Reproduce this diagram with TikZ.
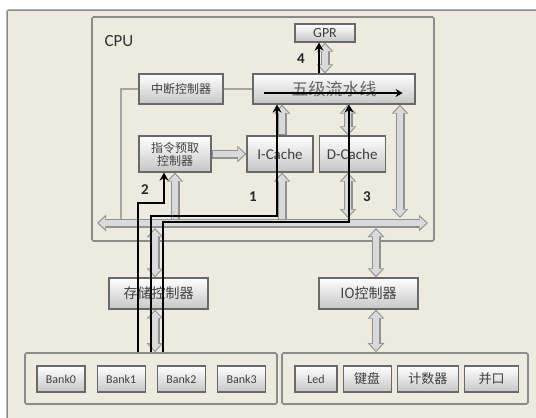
\documentclass[tikz,border=0pt]{standalone}
\usepackage{fontspec}
\setmainfont{Carlito}
\newfontfamily\cjk{Noto Sans CJK SC}
\usetikzlibrary{arrows.meta,positioning}
\definecolor{paper}{RGB}{237,234,224}
\definecolor{boxline}{RGB}{105,105,105}
\definecolor{frameline}{RGB}{140,140,140}
\definecolor{arrowfill}{RGB}{218,218,218}
\definecolor{arrowline}{RGB}{145,145,145}
\tikzset{
	unitbox/.style={rectangle, draw=boxline, line width=1.2pt, top color=white, bottom color=gray!45,
		inner sep=0pt, align=center, text=black!75, font=\cjk\fontsize{12}{13}\selectfont},
	bankbox/.style={unitbox, minimum height=26pt, font=\fontsize{12}{12}\selectfont},
	iobox/.style={unitbox, minimum height=26pt, font=\cjk\fontsize{13}{13}\selectfont},
	groupbox/.style={rectangle, draw=frameline, line width=1.6pt, rounded corners=1.5pt, inner sep=0pt},
	fatboth/.style={draw=arrowfill, line width=6.4pt, shorten <=1.6pt, shorten >=1.6pt,
		{Triangle[width=12pt,length=6.8pt]}-{Triangle[width=12pt,length=6.8pt]},
		preaction={draw=arrowline, line width=9pt, shorten <=0pt, shorten >=0pt,
			{Triangle[width=16pt,length=9pt]}-{Triangle[width=16pt,length=9pt]}}},
	fatone/.style={draw=arrowfill, line width=6.4pt, shorten <=1.3pt, shorten >=1.6pt,
		-{Triangle[width=12pt,length=6.8pt]},
		preaction={draw=arrowline, line width=9pt, shorten <=0pt, shorten >=0pt,
			-{Triangle[width=16pt,length=9pt]}}},
	wire/.style={draw=gray!70, line width=2.5pt},
	pathline/.style={-{Stealth[length=8pt,width=9pt]}, line width=2.4pt, black},
	flowline/.style={-{Stealth[length=7pt,width=8pt]}, line width=1.5pt, black},
	steplabel/.style={font=\bfseries\fontsize{15}{15}\selectfont, text=black!85}
}
\begin{document}
\begin{tikzpicture}[x=1pt, y=-1pt]
	\useasboundingbox (0,0) rectangle (536,418);
	\fill[white] (0,0) rectangle (536,418);
	\fill[paper] (7,10) rectangle (536,418);
	\draw[frameline, line width=1.5pt, rounded corners=2pt] (7,418) |- (536,10);

	% CPU part
	\node[groupbox, minimum width=342pt, minimum height=224pt] (cpu) at (263,129) {};
	\node[font=\fontsize{17}{17}\selectfont, text=black!80] (cpulbl) at (119,41) {CPU};
	\node[unitbox, minimum width=60pt, minimum height=18pt, font=\fontsize{14}{14}\selectfont] (gpr) at (325,33) {GPR};
	\node[unitbox, minimum width=162pt, minimum height=30pt, font=\cjk\fontsize{17}{17}\selectfont, text=black!60] (pipe) at (334,89) {五级流水线};
	\node[unitbox, minimum width=84pt, minimum height=30pt] (intc) at (181,89) {中断控制器};
	\node[unitbox, minimum width=72pt, minimum height=36pt] (fetch) at (175,154) {指令预取\\控制器};
	\node[unitbox, minimum width=66pt, minimum height=36pt, font=\fontsize{15}{15}\selectfont] (icache) at (280,154) {I-Cache};
	\node[unitbox, right=5pt of icache, minimum width=66pt, minimum height=36pt, font=\fontsize{15}{15}\selectfont] (dcache) {D-Cache};

	% controllers and devices
	\node[unitbox, minimum width=99pt, minimum height=31pt, font=\cjk\fontsize{14}{14}\selectfont] (memc) at (158.5,293.5) {存储控制器};
	\node[unitbox, minimum width=99pt, minimum height=31pt, font=\cjk\fontsize{14}{14}\selectfont] (ioc) at (368.5,293.5) {IO控制器};
	\node[groupbox, minimum width=252pt, minimum height=51pt] (bankgrp) at (151,378.5) {};
	\node[groupbox, minimum width=246pt, minimum height=51pt] (iogrp) at (405,378.5) {};
	\node[bankbox, minimum width=48pt] (bank0) at (61,379) {Bank0};
	\node[bankbox, minimum width=48pt, right=11pt of bank0] (bank1) {Bank1};
	\node[bankbox, minimum width=48pt, right=11pt of bank1] (bank2) {Bank2};
	\node[bankbox, minimum width=48pt, right=11pt of bank2] (bank3) {Bank3};
	\node[bankbox, minimum width=42pt] (led) at (316,379) {Led};
	\node[iobox, minimum width=48pt, right=5pt of led] (kbd) {键盘};
	\node[iobox, minimum width=61pt, right=5pt of kbd] (cnt) {计数器};
	\node[iobox, minimum width=54pt, right=5pt of cnt] (par) {并口};

	% bus and columns
	\coordinate (busL) at (97,223);
	\coordinate (busR) at (428,223);
	\coordinate (busN) at (0,218);
	\coordinate (busS) at (0,228);
	\coordinate (tap) at (121,223);
	\coordinate (colI) at (282,0);
	\coordinate (colD) at (348,0);
	\coordinate (colR) at (400,0);
	\coordinate (colM) at (155,0);
	\coordinate (colIO) at (376,0);

	\draw[wire] (intc.east) -- (pipe.west);
	\draw[wire] (intc.west) -| (tap);

	\draw[fatone] (fetch.south |- busL) -- (fetch.south);
	\draw[fatone] (fetch.east) -- (icache.west);
	\draw[fatone] (colI |- busL) -- (colI |- icache.south);
	\draw[fatone] (colI |- icache.north) -- (colI |- pipe.south);
	\draw[fatboth] (colD |- dcache.north) -- (colD |- pipe.south);
	\draw[fatboth] (colD |- busN) -- (colD |- dcache.south);
	\draw[fatboth] (colR |- busN) -- (colR |- pipe.south);
	\draw[fatboth] (gpr.south) -- (gpr.south |- pipe.north);
	\draw[fatboth] (colM |- busS) -- (colM |- memc.north);
	\draw[fatboth] (colM |- memc.south) -- (colM |- bankgrp.north);
	\draw[fatboth] (colIO |- busS) -- (colIO |- ioc.north);
	\draw[fatboth] (colIO |- ioc.south) -- (colIO |- iogrp.north);
	\draw[fatboth] (busL) -- (busR);

	% access paths
	\coordinate (g4) at ([shift={(-6,0)}]gpr.south);
	\draw[flowline] ([shift={(12,4)}]pipe.west) -- ([shift={(-13,4)}]pipe.east);
	\draw[pathline] (g4 |- pipe.north) -- (g4);
	\draw[pathline] ([shift={(-13,0)}]bankgrp.north) -- ++(0,-149) -| ([shift={(-11,0)}]fetch.south);
	\draw[pathline] (bankgrp.north) -- ++(0,-136) -| ([shift={(-57,0)}]pipe.south);
	\draw[pathline] ([shift={(12,0)}]bankgrp.north) -- ++(0,-130) -| ([shift={(15,0)}]pipe.south);

	\node[steplabel] (n4) at (301,59) {4};
	\node[steplabel] (n2) at (145,190) {2};
	\node[steplabel] (n1) at (253,197) {1};
	\node[steplabel] (n3) at (367,197) {3};
\end{tikzpicture}
\end{document}
